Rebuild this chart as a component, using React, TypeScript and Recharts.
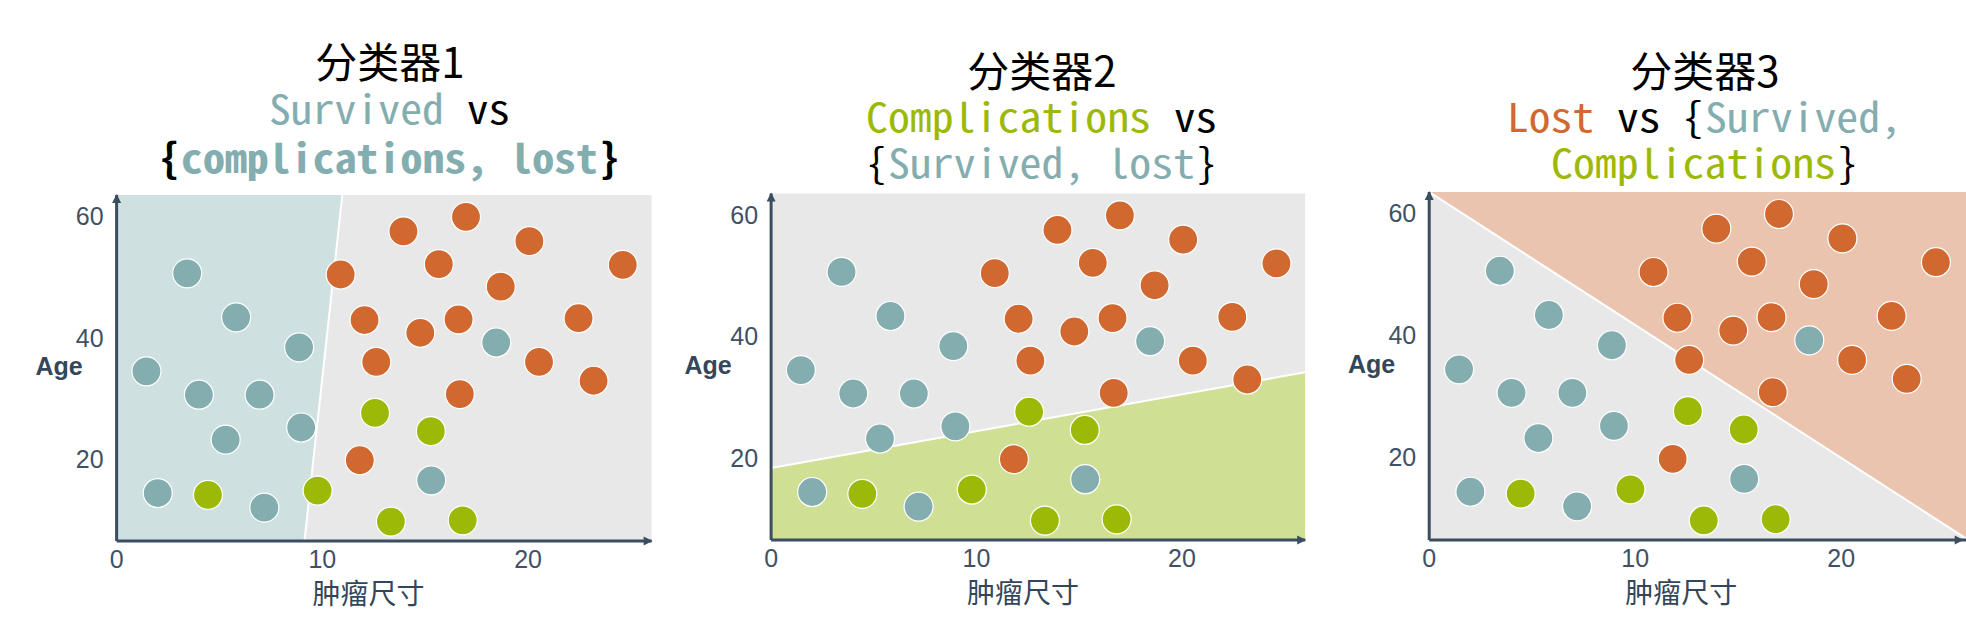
import React from 'react';
import {
  ComposedChart,
  Scatter,
  Area,
  XAxis,
  YAxis,
  CartesianGrid,
  ReferenceDot,
} from 'recharts';

// ---------- data ----------
const X_TICKS = [0, 10, 20];
const Y_TICKS = [20, 40, 60];

const survivedX = [3.43, 5.81, 8.87, 1.45, 4.0, 6.95, 8.97, 5.3, 2.0, 7.18, 18.45, 15.29];
const survivedY = [50.6, 43.35, 38.4, 34.45, 30.6, 30.6, 25.2, 23.2, 14.4, 12.0, 39.2, 16.5];

const complicationsX = [4.44, 9.77, 12.56, 15.27, 13.33, 16.82];
const complicationsY = [14.1, 14.8, 27.6, 24.6, 9.7, 9.9];

const lostX = [16.98, 13.94, 20.06, 15.66, 24.6, 10.89, 18.67, 12.05, 16.62, 22.45, 14.76, 12.62, 20.53, 23.18, 16.68, 11.82];
const lostY = [59.9, 57.5, 55.9, 52.1, 52.0, 50.4, 48.4, 42.9, 43.0, 43.2, 40.8, 36.0, 36.0, 32.9, 30.7, 19.8];

// decision regions (boundary vertices)
const region1X = [0, 9.13, 10.97];
const region1Y = [6.5, 6.5, 63.5];
const region2X = [0, 26];
const region2Y = [18.35, 34.1];
const region3X = [0, 26.1];
const region3Y = [63.5, 6.66];

const Y_MIN = 6.5;
const Y_MAX = 63.5;

const zip = (xs: number[], ys: number[]) => xs.map((x, i) => ({ x, y: ys[i] }));
const survived = zip(survivedX, survivedY);
const complications = zip(complicationsX, complicationsY);
const lost = zip(lostX, lostY);

// ---------- styles ----------
const TEAL = '#84adb0';
const GREEN = '#9db908';
const ORANGE = '#d06830';
const AXIS = '#3b4d61';
const TICK = '#3f5166';
const MONO = '"Noto Sans Mono CJK SC", "DejaVu Sans Mono", monospace';
const CJK = '"Noto Sans CJK SC", "Noto Sans", sans-serif';

const dot = (fill: string) => (props: any) => (
  <circle cx={props.cx} cy={props.cy} r={14.5} fill={fill} stroke="#ffffff" strokeWidth={1.2} />
);

const rightArrow = (props: any) => (
  <polygon
    points={`${props.cx + 1},${props.cy} ${props.cx - 8},${props.cy - 4.5} ${props.cx - 8},${props.cy + 4.5}`}
    fill={AXIS}
  />
);
const upArrow = (props: any) => (
  <polygon
    points={`${props.cx},${props.cy - 1} ${props.cx - 4.5},${props.cy + 8} ${props.cx + 4.5},${props.cy + 8}`}
    fill={AXIS}
  />
);

type PanelCfg = {
  left: number;
  width: number;
  margin: { top: number; right: number; bottom: number; left: number };
  xMax: number;
  arrowX: number;
  regionX: number[];
  regionY: number[];
  regionBase: number | 'dataMin';
  regionFill: string;
  ageOffset: number;
};

const panels: PanelCfg[] = [
  {
    left: 0,
    width: 660,
    margin: { top: 195, right: 8.4, bottom: 56, left: 56.6 },
    xMax: 26,
    arrowX: 26,
    regionX: region1X,
    regionY: region1Y,
    regionBase: Y_MAX,
    regionFill: '#cfe0e0',
    ageOffset: 57.6,
  },
  {
    left: 660,
    width: 660,
    margin: { top: 193.5, right: 14.8, bottom: 57, left: 51.1 },
    xMax: 26,
    arrowX: 26,
    regionX: region2X,
    regionY: region2Y,
    regionBase: Y_MIN,
    regionFill: '#cfe094',
    ageOffset: 63,
  },
  {
    left: 1320,
    width: 646,
    margin: { top: 192, right: 0, bottom: 57, left: 49.2 },
    xMax: 26.06,
    arrowX: 25.9,
    regionX: region3X,
    regionY: region3Y,
    regionBase: Y_MAX,
    regionFill: '#eac4ae',
    ageOffset: 57.7,
  },
];

function Panel({ cfg }: { cfg: PanelCfg }) {
  const region = zip(cfg.regionX, cfg.regionY);
  return (
    <div style={{ position: 'absolute', left: cfg.left, top: 0 }}>
      <ComposedChart width={cfg.width} height={627} margin={cfg.margin}>
        <CartesianGrid horizontal={false} vertical={false} fill="#e8e8e8" fillOpacity={1} stroke="none" />
        <XAxis
          type="number"
          dataKey="x"
          domain={[0, cfg.xMax]}
          allowDataOverflow
          ticks={X_TICKS}
          tickLine={false}
          tickSize={6}
          tickMargin={3}
          height={30}
          axisLine={{ stroke: AXIS, strokeWidth: 3 }}
          tick={{ fill: TICK, fontSize: 25, fontFamily: '"Liberation Sans", Arial, sans-serif' }}
          label={{
            content: (p: any) => {
              const vb = p.viewBox || { x: 0, y: 0 };
              return (
                <text
                  x={vb.x + 252}
                  y={vb.y + 63}
                  textAnchor="middle"
                  fill="#34475a"
                  fontSize={28}
                  fontFamily={CJK}
                >
                  肿瘤尺寸
                </text>
              );
            },
          }}
        />
        <YAxis
          type="number"
          dataKey="y"
          domain={[Y_MIN, Y_MAX]}
          allowDataOverflow
          ticks={Y_TICKS}
          tickLine={false}
          tickSize={6}
          tickMargin={7}
          width={60}
          axisLine={{ stroke: AXIS, strokeWidth: 3 }}
          tick={{ fill: TICK, fontSize: 25, fontFamily: '"Liberation Sans", Arial, sans-serif' }}
          label={{
            content: (p: any) => {
              const vb = p.viewBox || { x: 0, y: 0, width: 60, height: 346 };
              return (
                <text
                  x={vb.x + vb.width - cfg.ageOffset}
                  y={vb.y + vb.height * 0.52}
                  textAnchor="middle"
                  fill="#34475a"
                  fontSize={25}
                  fontWeight={700}
                  fontFamily='"Liberation Sans", Arial, sans-serif'
                >
                  Age
                </text>
              );
            },
          }}
        />
        <Area
          data={region}
          dataKey="y"
          type="linear"
          baseValue={cfg.regionBase}
          fill={cfg.regionFill}
          fillOpacity={1}
          stroke="#ffffff"
          strokeWidth={2}
          isAnimationActive={false}
          dot={false}
          activeDot={false}
        />
        <Scatter data={survived} dataKey="y" shape={dot(TEAL)} isAnimationActive={false} />
        <Scatter data={complications} dataKey="y" shape={dot(GREEN)} isAnimationActive={false} />
        <Scatter data={lost} dataKey="y" shape={dot(ORANGE)} isAnimationActive={false} />
        <ReferenceDot x={cfg.arrowX} y={Y_MIN} shape={rightArrow} />
        <ReferenceDot x={0} y={Y_MAX} shape={upArrow} />
      </ComposedChart>
    </div>
  );
}

type Seg = { t: string; c: string };
const CW = 22;

function TitleLine({ segs, cx, y, size, weight }: { segs: Seg[]; cx: number; y: number; size: number; weight?: number }) {
  const total = segs.reduce((a, s) => a + s.t.length, 0);
  const start = cx - (total * CW) / 2;
  let idx = 0;
  return (
    <>
      {segs.map((s, i) => {
        const lead = s.t.length - s.t.trimStart().length;
        const tr = s.t.trim();
        const x = start + (idx + lead) * CW;
        idx += s.t.length;
        if (!tr) return null;
        return (
          <text
            key={i}
            x={x}
            y={y}
            textLength={tr.length * CW - 1}
            lengthAdjust="spacingAndGlyphs"
            fill={s.c}
            fontSize={size}
            fontWeight={weight || 400}
            fontFamily={MONO}
          >
            {tr}
          </text>
        );
      })}
    </>
  );
}

const titles = [
  { name: '分类器1', cx: 390, y1: 78, l2y: 124, l3y: 173, l2: [{ t: 'Survived', c: TEAL }, { t: ' vs', c: '#000' }], l3: [{ t: '{', c: '#000' }, { t: 'complications, lost', c: TEAL }, { t: '}', c: '#000' }], l3w: 700 },
  { name: '分类器2', cx: 1042, y1: 87, l2y: 131.5, l3y: 178, l2: [{ t: 'Complications', c: GREEN }, { t: ' vs', c: '#000' }], l3: [{ t: '{', c: '#000' }, { t: 'Survived, lost', c: TEAL }, { t: '}', c: '#000' }], l3w: 400 },
  { name: '分类器3', cx: 1705, y1: 87, l2y: 131.5, l3y: 178, l2: [{ t: 'Lost', c: ORANGE }, { t: ' vs {', c: '#000' }, { t: 'Survived,', c: TEAL }], l3: [{ t: 'Complications', c: GREEN }, { t: '}', c: '#000' }], l3w: 400 },
];

export default function App() {
  return (
    <div style={{ position: 'absolute', left: 0, top: 0, width: 1966, height: 627, background: '#ffffff', overflow: 'hidden' }}>
      {panels.map((p, i) => (
        <Panel key={i} cfg={p} />
      ))}
      <svg width={1966} height={200} style={{ position: 'absolute', left: 0, top: 0, pointerEvents: 'none' }}>
        {titles.map((t, i) => (
          <g key={i}>
            <text x={t.cx} y={t.y1} textAnchor="middle" fontSize={42} fontFamily={CJK} fill="#000">
              {t.name}
            </text>
            <TitleLine segs={t.l2} cx={t.cx} y={t.l2y} size={40} />
            <TitleLine segs={t.l3} cx={t.cx} y={t.l3y} size={40} weight={t.l3w} />
          </g>
        ))}
      </svg>
    </div>
  );
}
